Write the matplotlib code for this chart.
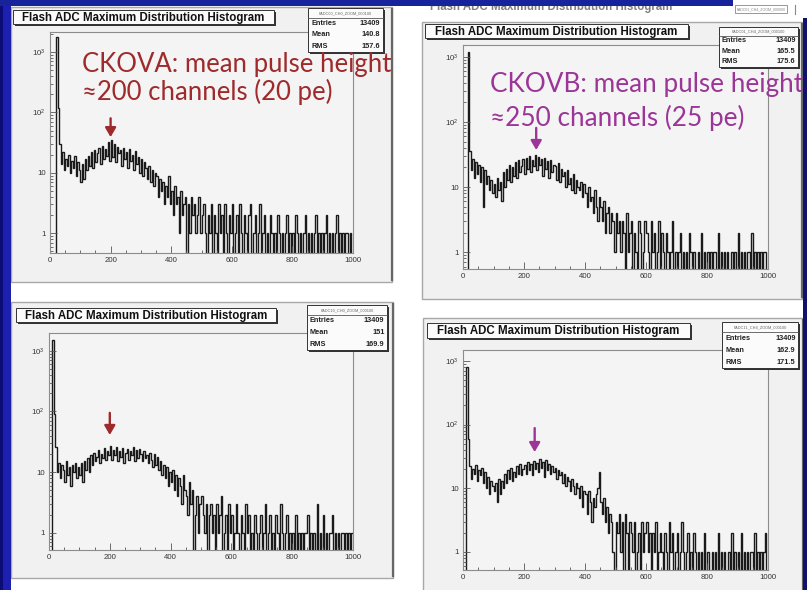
import numpy as np
import matplotlib
matplotlib.use("Agg")
import matplotlib.pyplot as plt
from matplotlib.patches import Rectangle
from matplotlib.ticker import FixedLocator, LogLocator, MultipleLocator, NullFormatter

plt.rcParams['font.family'] = ['Liberation Sans', 'DejaVu Sans']
plt.rcParams['mathtext.default'] = 'regular'

W, H = 807, 590

# flash ADC channel bins, 5 channels wide, 0..1000
edges = np.arange(0, 1001, 5)

ckova_run1 = [
    0, 0, 0, 0, 1800, 120, 30, 14, 22, 11, 17, 13, 20, 10, 16, 12, 19, 9, 15, 11,
    7, 14, 8, 17, 11, 19, 13, 22, 12, 24, 15, 21, 26, 14, 28, 17, 25, 19, 32, 16,
    35, 18, 30, 15, 27, 21, 24, 13, 26, 17, 22, 12, 25, 16, 20, 11, 23, 14, 18, 10,
    17, 9, 15, 12, 8, 13, 7, 11, 6, 10, 9, 4, 8, 5, 7, 3, 6, 4, 9, 3,
    5, 2, 6, 3, 4, 1, 5, 2, 3, 4, 0, 3, 1, 4, 2, 3, 1, 2, 4, 1,
    2, 3, 1, 0, 2, 1, 3, 0, 2, 1, 0, 3, 1, 2, 0, 3, 1, 0, 2, 1,
    3, 0, 1, 2, 0, 3, 1, 0, 2, 1, 0, 2, 3, 0, 1, 2, 0, 1, 3, 0,
    1, 2, 0, 1, 0, 2, 1, 0, 1, 0, 2, 1, 0, 1, 0, 1, 2, 0, 1, 0,
    1, 0, 2, 1, 0, 1, 0, 1, 2, 0, 1, 0, 1, 0, 1, 2, 0, 1, 0, 1,
    0, 1, 2, 0, 1, 0, 1, 0, 1, 2, 0, 1, 0, 1, 0, 1, 1, 0, 1, 0,
]

ckovb_run1 = [
    0, 0, 0, 1200, 36, 18, 27, 14, 24, 16, 22, 12, 20, 5, 18, 11, 15, 9, 13, 8,
    11, 7, 14, 9, 12, 6, 17, 10, 19, 13, 22, 12, 20, 15, 24, 14, 26, 17, 21, 27,
    16, 28, 19, 30, 17, 26, 21, 31, 18, 29, 22, 27, 15, 28, 19, 25, 14, 26, 17, 22,
    21, 13, 23, 12, 19, 15, 17, 10, 18, 11, 14, 9, 16, 8, 13, 10, 9, 12, 7, 11,
    8, 5, 10, 6, 7, 4, 9, 5, 3, 7, 5, 3, 6, 2, 4, 5, 2, 4, 3, 1,
    4, 2, 3, 1, 3, 2, 0, 4, 1, 2, 3, 0, 2, 1, 0, 3, 2, 0, 1, 3,
    2, 1, 0, 3, 1, 2, 0, 1, 3, 0, 2, 1, 0, 2, 1, 0, 1, 3, 0, 1,
    0, 1, 2, 0, 1, 0, 1, 0, 2, 1, 0, 1, 0, 0, 1, 0, 2, 0, 1, 0,
    1, 0, 1, 0, 1, 1, 0, 2, 0, 1, 0, 1, 0, 1, 0, 0, 1, 0, 1, 0,
    2, 0, 1, 0, 1, 0, 1, 1, 0, 2, 0, 1, 0, 1, 0, 1, 0, 1, 1, 0,
]

ckova_run2 = [
    0, 0, 1500, 90, 26, 10, 14, 8, 13, 11, 7, 15, 9, 12, 6, 13, 10, 14, 8, 12,
    9, 14, 7, 15, 11, 17, 10, 19, 13, 21, 15, 18, 23, 14, 20, 17, 25, 16, 22, 19,
    27, 16, 23, 19, 26, 15, 22, 18, 25, 14, 21, 24, 16, 22, 19, 26, 15, 23, 17, 24,
    20, 15, 22, 17, 19, 14, 21, 16, 12, 20, 13, 18, 11, 15, 9, 13, 8, 12, 6, 10,
    7, 11, 5, 9, 4, 8, 6, 3, 9, 5, 4, 2, 7, 3, 5, 0, 2, 4, 1, 3,
    4, 2, 1, 3, 0, 2, 3, 1, 2, 0, 3, 1, 2, 4, 0, 1, 2, 0, 3, 1,
    2, 0, 1, 3, 1, 0, 2, 1, 0, 3, 1, 2, 0, 1, 0, 2, 1, 0, 1, 2,
    0, 1, 3, 0, 1, 2, 0, 1, 0, 2, 1, 0, 3, 1, 0, 1, 2, 0, 1, 0,
    1, 0, 2, 0, 1, 0, 1, 0, 1, 1, 2, 0, 1, 0, 1, 0, 3, 0, 1, 0,
    2, 0, 1, 0, 1, 1, 2, 0, 1, 0, 1, 0, 1, 1, 0, 1, 0, 1, 0, 1,
]

ckovb_run2 = [
    0, 0, 800, 60, 22, 14, 20, 17, 23, 13, 19, 16, 21, 12, 18, 10, 15, 8, 13, 11,
    9, 12, 6, 14, 8, 13, 10, 17, 12, 19, 14, 21, 13, 18, 15, 22, 17, 24, 16, 20,
    23, 17, 26, 19, 24, 16, 27, 20, 25, 18, 29, 21, 26, 15, 28, 19, 24, 17, 22, 18,
    21, 14, 19, 16, 18, 12, 17, 11, 15, 13, 9, 14, 11, 8, 12, 10, 7, 11, 5, 9,
    8, 4, 9, 6, 3, 7, 5, 8, 10, 18, 6, 4, 7, 3, 5, 2, 4, 3, 1, 0,
    3, 2, 4, 1, 3, 0, 4, 2, 0, 3, 2, 1, 3, 0, 1, 2, 0, 3, 1, 2,
    3, 1, 2, 0, 2, 1, 3, 0, 1, 2, 1, 0, 2, 1, 0, 3, 1, 2, 0, 1,
    2, 0, 1, 3, 1, 0, 1, 2, 0, 1, 0, 2, 1, 0, 1, 0, 1, 0, 2, 0,
    1, 0, 0, 1, 0, 1, 0, 2, 0, 1, 0, 1, 0, 0, 1, 0, 2, 0, 1, 0,
    1, 0, 2, 0, 1, 0, 1, 0, 1, 1, 0, 2, 0, 1, 0, 1, 0, 1, 2, 0,
]

hist_names = ['FADC00_CH0_ZOOM_000100', 'FADC01_CH4_ZOOM_000100',
              'FADC10_CH0_ZOOM_000100', 'FADC11_CH4_ZOOM_000100']
entries = ['13409', '13409', '13409', '13409']
means = ['140.8', '165.5', '151', '162.9']
rms_values = ['157.6', '175.6', '169.9', '171.5']
peak_channels = [200, 240, 200, 235]

title = 'Flash ADC Maximum Distribution Histogram'
RED = '#9e2a2b'
PURPLE = '#9b3597'

# pixel layout of the four ROOT canvases: canvas, frame, title pave, stats pave
panels = [
    dict(data=ckova_run1, canvas=(11, 7, 381, 275), frame=(50, 32, 353, 253),
         title=(13, 10, 261, 14), stats=(308, 8, 75, 44), ylim=(0.47, 2150),
         arrow=(39, 80), color=RED),
    dict(data=ckovb_run1, canvas=(422, 22, 380, 277), frame=(463, 45, 768, 269),
         title=(425, 24, 263, 14), stats=(719, 27, 79, 40), ylim=(0.55, 1520),
         arrow=(37, 81), color=PURPLE),
    dict(data=ckova_run2, canvas=(11, 302, 382, 276), frame=(49, 333, 353, 550),
         title=(16, 308, 260, 14), stats=(307, 305, 80, 45), ylim=(0.52, 1970),
         arrow=(41, 95), color=RED),
    dict(data=ckovb_run2, canvas=(423, 318, 380, 280), frame=(463, 350, 768, 570),
         title=(427, 323, 263, 15), stats=(722, 322, 76, 46), ylim=(0.52, 1480),
         arrow=(37, 88), color=PURPLE),
]

fig = plt.figure(figsize=(W / 100, H / 100), dpi=100, facecolor='white')

bg = fig.add_axes([0, 0, 1, 1])
bg.set_xlim(0, W)
bg.set_ylim(H, 0)
bg.axis('off')

# canvas behind the top right one, only its lower edge shows
bg.text(430, 7, title, fontsize=8.3, weight='bold', color='#808080', va='center')
bg.add_patch(Rectangle((735, 5), 52, 8, facecolor='white', edgecolor='#888888', lw=0.6))
bg.text(761, 9, 'FADC01_CH4_ZOOM_000000', fontsize=2.6, color='#888888',
        ha='center', va='center')
bg.plot([795, 795], [5, 14], color='#888888', lw=0.8)

for p in panels:
    cx, cy, cw, ch = p['canvas']
    bg.add_patch(Rectangle((cx, cy), cw, ch, facecolor='#f1f1f1',
                           edgecolor='#a8a8a8', lw=1.0))
    bg.plot([cx + cw, cx + cw], [cy + 2, cy + ch - 2], color='#666666', lw=1.6)

# slide background around the canvases
bg.add_patch(Rectangle((0, 0), 11, H, facecolor='#1d1fae', edgecolor='none', zorder=10))
bg.add_patch(Rectangle((0, 0), 3, H, facecolor='#0c0c78', edgecolor='none', zorder=10))
bg.add_patch(Rectangle((0, 0), 733, 6, facecolor='#17239a', edgecolor='none', zorder=10))
bg.add_patch(Rectangle((803, 18), 4, H, facecolor='#10106e', edgecolor='none', zorder=10))

axes = []
for p in panels:
    x0, y0, x1, y1 = p['frame']
    ax = fig.add_axes([x0 / W, 1 - y1 / H, (x1 - x0) / W, (y1 - y0) / H])
    vals = np.asarray(p['data'], dtype=float)
    ax.stairs(np.where(vals > 0, vals, 1e-3), edges, baseline=None,
              color='#1a1a1a', lw=1.0)
    ax.set_yscale('log')
    ax.set_xlim(0, 1000)
    ax.set_ylim(*p['ylim'])
    ax.set_facecolor('#f4f4f4')
    for s in ax.spines.values():
        s.set_color('#8c8c8c')
        s.set_linewidth(0.8)
    ax.yaxis.set_major_locator(FixedLocator([1, 10, 100, 1000]))
    ax.set_yticklabels(['1', '10', '10$^{2}$', '10$^{3}$'])
    ax.yaxis.set_minor_locator(LogLocator(base=10, subs=np.arange(2, 10), numticks=20))
    ax.yaxis.set_minor_formatter(NullFormatter())
    ax.xaxis.set_major_locator(MultipleLocator(200))
    ax.xaxis.set_minor_locator(MultipleLocator(50))
    ax.tick_params(which='both', direction='in', top=False, right=False,
                   color='#555555', width=0.6, labelsize=5.6, labelcolor='#333333')
    ax.tick_params(which='major', length=5, pad=3)
    ax.tick_params(which='minor', length=2.5)
    axes.append(ax)

for ax, p, xpk in zip(axes, panels, peak_channels):
    tip, tail = p['arrow']
    ax.annotate('', xy=(xpk, tip), xytext=(xpk, tail), annotation_clip=False,
                arrowprops=dict(arrowstyle='-|>,head_length=0.55,head_width=0.32',
                                lw=1.7, color=p['color'], shrinkA=0, shrinkB=0))

ov = fig.add_axes([0, 0, 1, 1], zorder=5)
ov.patch.set_alpha(0)
ov.set_xlim(0, W)
ov.set_ylim(H, 0)
ov.axis('off')

for p, name, ent, mean, rms in zip(panels, hist_names, entries, means, rms_values):
    tx, ty, tw, th = p['title']
    ov.add_patch(Rectangle((tx + 1.5, ty + 1.5), tw, th, facecolor='#333333', edgecolor='none'))
    ov.add_patch(Rectangle((tx, ty), tw, th, facecolor='#fbfbfb', edgecolor='#333333', lw=0.7))
    ov.text(tx + tw / 2, ty + th / 2 + 0.5, title, fontsize=8.3, weight='bold',
            color='#111111', ha='center', va='center')

    sx, sy, sw, sh = p['stats']
    ov.add_patch(Rectangle((sx + 1.5, sy + 1.5), sw, sh, facecolor='#333333', edgecolor='none'))
    ov.add_patch(Rectangle((sx, sy), sw, sh, facecolor='#fbfbfb', edgecolor='#333333', lw=0.7))
    top = sh * 0.22
    ov.text(sx + sw / 2, sy + top / 2 + 0.3, name, fontsize=2.8, color='#666666',
            ha='center', va='center')
    ov.plot([sx, sx + sw], [sy + top, sy + top], color='#555555', lw=0.6)
    row = (sh - top) / 3
    for i, (lab, val) in enumerate([('Entries', ent), ('Mean', mean), ('RMS', rms)]):
        yy = sy + top + (i + 0.5) * row
        ov.text(sx + 3, yy, lab, fontsize=5.3, weight='bold', color='#222222', va='center')
        ov.text(sx + sw - 2.5, yy, val, fontsize=5.3, weight='bold', color='#222222',
                ha='right', va='center')

fam = ['Lato', 'DejaVu Sans']
ov.text(82, 72, 'CKOVA: mean pulse height', fontsize=18.5, color=RED, family=fam,
        va='baseline', zorder=6)
ov.text(82, 100, '\u2248200 channels (20 pe)', fontsize=18.5, color=RED, family=fam,
        va='baseline', zorder=6)
ov.text(490, 92, 'CKOVB: mean pulse height', fontsize=18.8, color=PURPLE, family=fam,
        va='baseline', zorder=6)
ov.text(490, 126, '\u2248250 channels (25 pe)', fontsize=18.8, color=PURPLE, family=fam,
        va='baseline', zorder=6)

fig.savefig('out.png', dpi=100, facecolor=fig.get_facecolor())
